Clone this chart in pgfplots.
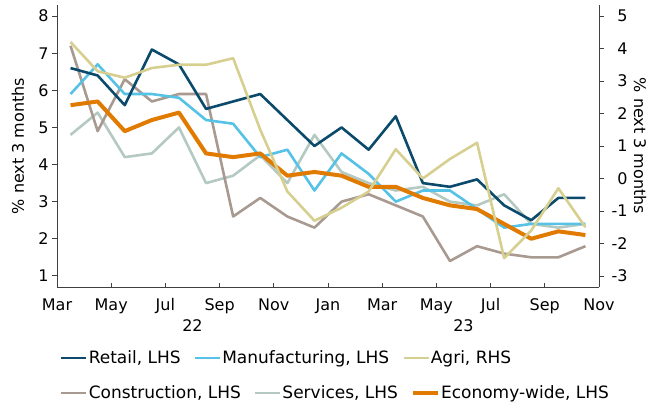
\documentclass[border=0pt]{standalone}
\usepackage{fontspec}
\setmainfont{DejaVu Sans}
\usepackage{pgfplots}
\pgfplotsset{compat=1.18}
\usepackage{pgfplotstable}

\definecolor{cretail}{HTML}{0B4A6B}
\definecolor{cmanuf}{HTML}{56C2E6}
\definecolor{cagri}{HTML}{D6CF8F}
\definecolor{cconstr}{HTML}{A89A90}
\definecolor{cserv}{HTML}{B5C9C3}
\definecolor{cecon}{HTML}{E07B00}
\definecolor{caxis}{HTML}{404040}

\pgfplotstableread{
x    retail manuf constr serv econ agri
0.5  6.6    5.9   7.2    4.8  5.6  4.2
1.5  6.4    6.7   4.9    5.4  5.7  3.3
2.5  5.6    5.9   6.3    4.2  4.9  3.1
3.5  7.1    5.9   5.7    4.3  5.2  3.4
4.5  6.7    5.8   5.9    5.0  5.4  3.5
5.5  5.5    5.2   5.9    3.5  4.3  3.5
6.5  5.7    5.1   2.6    3.7  4.2  3.7
7.5  5.9    4.2   3.1    4.25 4.3  1.5
8.5  5.2    4.4   2.6    3.5  3.7  -0.4
9.5  4.5    3.3   2.3    4.8  3.8  -1.3
10.5 5.0    4.3   3.0    3.8  3.7  -0.9
11.5 4.4    3.75  3.2    3.5  3.4  -0.4
12.5 5.3    3.0   2.9    3.3  3.4  0.9
13.5 3.5    3.3   2.6    3.4  3.1  0.0
14.5 3.4    3.3   1.4    3.0  2.9  0.6
15.5 3.6    2.8   1.8    2.9  2.8  1.1
16.5 2.9    2.3   1.6    3.2  2.4  -2.45
17.5 2.5    2.4   1.5    2.4  2.0  -1.6
18.5 3.1    2.4   1.5    2.3  2.2  -0.3
19.5 3.1    2.4   1.8    2.4  2.1  -1.5
}\data

\pgfplotsset{
  base/.style={
    scale only axis, width=542pt, height=282pt,
    xmin=0, xmax=20,
    font=\fontsize{16}{19}\selectfont,
    /pgf/number format/assume math mode=true,
    axis line style={caxis, line width=0.9pt},
    major tick style={caxis, line width=0.9pt},
    major tick length=5pt,
    legend image code/.code={\draw[#1] (0pt,0pt) -- (25pt,0pt);},
    legend style={draw=none, fill=none, anchor=west, legend columns=3,
      font=\fontsize{17}{20}\selectfont,
      /tikz/every even column/.append style={column sep=12pt},
      nodes={inner xsep=1pt, inner ysep=1pt}},
    legend cell align=left,
  },
  ls/.style={line width=2.6pt, line join=round, color=#1},
}

\begin{document}
\begin{tikzpicture}
\useasboundingbox (-57pt,-116pt) rectangle (597pt,287pt);
\begin{axis}[base, clip=false,
  ymin=0.7, ymax=8.3,
  axis x line*=bottom, axis y line*=left,
  xtick={0,2,...,20},
  xticklabels={Mar,May,Jul,Sep,Nov,Jan,Mar,May,Jul,Sep,Nov},
  x tick style={/pgfplots/major tick length=4pt},
  xtick align=inside,
  ytick={1,...,8}, ytick align=outside,
  xticklabel style={yshift=-8pt},
  ylabel={\% next 3 months},
  ylabel style={at={(axis description cs:-0.072,0.5)}, anchor=center},
  legend style={at={(axis description cs:0.0,-0.252)}},
  legend entries={{Retail, LHS},{Manufacturing, LHS},{Agri, RHS}},
]
\addlegendimage{ls=cretail}
\addlegendimage{ls=cmanuf}
\addlegendimage{ls=cagri}
\addplot[ls=cserv, forget plot] table[x=x,y=serv] {\data};
\addplot[ls=cconstr, forget plot] table[x=x,y=constr] {\data};
\addplot[ls=cmanuf, forget plot] table[x=x,y=manuf] {\data};
\addplot[ls=cretail, forget plot] table[x=x,y=retail] {\data};
\addplot[ls=cecon, line width=4pt, forget plot] table[x=x,y=econ] {\data};
\node[anchor=center] at (rel axis cs:0.25,0) [yshift=-39pt] {22};
\node[anchor=center] at (rel axis cs:0.75,0) [yshift=-39pt] {23};
\end{axis}
\begin{axis}[base,
  ymin=-3.3385, ymax=5.3385,
  axis x line=none, axis y line*=right,
  ytick={-3,...,5}, ytick align=outside,
  yticklabel style={anchor=east, xshift=27pt},
  ylabel={\% next 3 months},
  ylabel style={at={(axis description cs:1.0756,0.5)}, anchor=center, rotate=180},
  legend style={at={(axis description cs:0.0,-0.376)}},
  legend entries={{Construction, LHS},{Services, LHS},{Economy-wide, LHS}},
]
\addlegendimage{ls=cconstr}
\addlegendimage{ls=cserv}
\addlegendimage{ls=cecon, line width=4pt}
\addplot[ls=cagri, forget plot] table[x=x,y=agri] {\data};
\end{axis}
\end{tikzpicture}
\end{document}
